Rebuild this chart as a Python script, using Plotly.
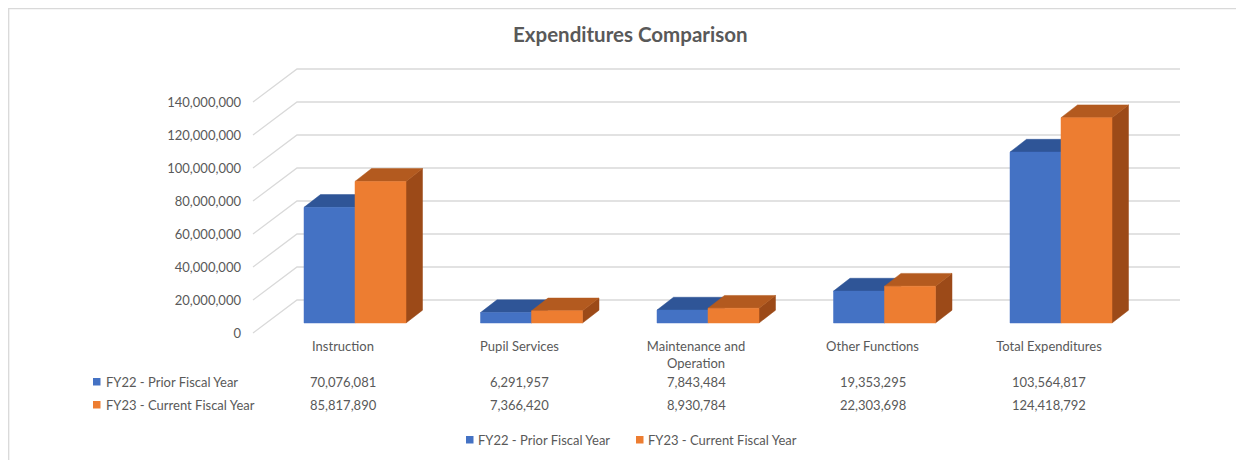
import plotly.graph_objects as go

# ---------------- data ----------------
categories = ["Instruction", "Pupil Services", "Maintenance and Operation",
              "Other Functions", "Total Expenditures"]
category_labels = ["Instruction", "Pupil Services", "Maintenance and<br>Operation",
                   "Other Functions", "Total Expenditures"]
series_names = ["FY22 - Prior Fiscal Year", "FY23 - Current Fiscal Year"]
fy22_values = [70076081, 6291957, 7843484, 19353295, 103564817]
fy23_values = [85817890, 7366420, 8930784, 22303698, 124418792]
y_ticks = [0, 20000000, 40000000, 60000000, 80000000, 100000000, 120000000, 140000000]

# ---------------- styling / geometry ----------------
# the page body adds an 8px margin, so the figure is offset by 8px
OFF = 8
W, H = 1244 - OFF, 460 - OFF
ML, MR, MT, MB = 250 - OFF, 54, 60 - OFF, 125
PX_CAT = 176.5          # px per category step
X0_PX = 343 - OFF       # pixel of category 0 on the front plane
PX_VAL = 1.65e-6        # px per unit of value
Y0_PX = 333 - OFF       # pixel of value 0 on the front plane
FS = 13

def cx(px):  # figure pixel -> x data
    return (px - X0_PX) / PX_CAT

def cy(py):  # figure pixel -> y data
    return (Y0_PX - py) / PX_VAL

DEPTH_X, DEPTH_Y = 44 / PX_CAT, 33 / PX_VAL          # full depth of the box
OFF_X, OFF_Y = 12 / PX_CAT, 10 / PX_VAL              # bar front face offset
BD_X, BD_Y = 16.5 / PX_CAT, 12.8 / PX_VAL            # bar depth
BAR_W = 51 / PX_CAT

TXT = "#595959"
FONT = "Lato"
GRID = "#D9D9D9"
colors = {
    0: dict(front="#4472C4", top="#2F5597", side="#2B4D8A"),
    1: dict(front="#ED7D31", top="#B35A1F", side="#9C4A18"),
}

fig = go.Figure()

# back-wall gridlines (with the diagonal from the front-left edge)
gx, gy = [], []
xl, xr = cx(253 - OFF), cx(1180 - OFF)
for t in y_ticks:
    gx += [xl, xl + DEPTH_X, xr, None]
    gy += [t, t + DEPTH_Y, t + DEPTH_Y, None]
fig.add_trace(go.Scatter(x=gx, y=gy, mode="lines", line=dict(color=GRID, width=1.3),
                         hoverinfo="skip", showlegend=False))

# 3D bars
all_vals = [fy22_values, fy23_values]
for s, vals in enumerate(all_vals):
    faces = {"side": ([], []), "top": ([], []), "front": ([], [])}
    for i, v in enumerate(vals):
        x_left = i + OFF_X + (s - 1) * BAR_W
        x_right = x_left + BAR_W
        y_bot = OFF_Y
        y_top = OFF_Y + v
        fx, fy = faces["front"]
        fx += [x_left, x_right, x_right, x_left, x_left, None]
        fy += [y_bot, y_bot, y_top, y_top, y_bot, None]
        tx, ty = faces["top"]
        tx += [x_left, x_right, x_right + BD_X, x_left + BD_X, x_left, None]
        ty += [y_top, y_top, y_top + BD_Y, y_top + BD_Y, y_top, None]
        sx, sy = faces["side"]
        sx += [x_right, x_right + BD_X, x_right + BD_X, x_right, x_right, None]
        sy += [y_bot, y_bot + BD_Y, y_top + BD_Y, y_top, y_bot, None]
    for face in ["side", "top", "front"]:
        xs, ys = faces[face]
        c = colors[s][face]
        fig.add_trace(go.Scatter(x=xs, y=ys, mode="lines", fill="toself",
                                 fillcolor=c, line=dict(color=c, width=0.5),
                                 hoverinfo="skip", showlegend=False))

# ---------------- data table & legend ----------------
def paper_x(px):  # reference-image pixel -> paper
    return (px - OFF - ML) / (W - ML - MR)

def paper_y(py):
    return (H - MB - (py - OFF)) / (H - MT - MB)

annotations = []
shapes = []
row_y = [382, 405]
for s, vals in enumerate(all_vals):
    for i, v in enumerate(vals):
        annotations.append(dict(x=i, xref="x", y=paper_y(row_y[s]), yref="paper",
                                text=f"{v:,}", showarrow=False,
                                font=dict(family=FONT, size=FS, color=TXT),
                                xanchor="center", yanchor="middle"))
    annotations.append(dict(x=paper_x(104), xref="paper", y=paper_y(row_y[s]), yref="paper",
                            text=series_names[s], showarrow=False,
                            font=dict(family=FONT, size=FS, color=TXT),
                            xanchor="left", yanchor="middle"))
    shapes.append(dict(type="rect", xref="paper", yref="paper",
                       x0=paper_x(93), x1=paper_x(100.5),
                       y0=paper_y(row_y[s] + 3.5), y1=paper_y(row_y[s] - 4),
                       fillcolor=colors[s]["front"], line=dict(width=0)))

# bottom legend
leg_y = 440
leg_sq = [466, 636]
for s in range(2):
    shapes.append(dict(type="rect", xref="paper", yref="paper",
                       x0=paper_x(leg_sq[s]), x1=paper_x(leg_sq[s] + 7.5),
                       y0=paper_y(leg_y + 3.5), y1=paper_y(leg_y - 4),
                       fillcolor=colors[s]["front"], line=dict(width=0)))
    annotations.append(dict(x=paper_x(leg_sq[s] + 9.5), xref="paper", y=paper_y(leg_y), yref="paper",
                            text=series_names[s], showarrow=False,
                            font=dict(family=FONT, size=FS, color=TXT),
                            xanchor="left", yanchor="middle"))

# title
annotations.append(dict(x=paper_x(630), xref="paper", y=paper_y(34), yref="paper",
                        text="<b>Expenditures Comparison</b>", showarrow=False,
                        font=dict(family=FONT, size=20.5, color=TXT),
                        xanchor="center", yanchor="middle"))

# chart border (top and left visible)
shapes.append(dict(type="rect", xref="paper", yref="paper",
                   x0=paper_x(8.7), x1=paper_x(1270), y0=paper_y(480), y1=paper_y(8.7),
                   line=dict(color="#D9D9D9", width=1.3), fillcolor="rgba(0,0,0,0)",
                   layer="below"))

fig.update_layout(
    width=W, height=H, autosize=False,
    margin=dict(l=ML, r=MR, t=MT, b=MB),
    paper_bgcolor="white", plot_bgcolor="white",
    showlegend=False,
    annotations=annotations, shapes=shapes,
    xaxis=dict(range=[cx(ML), cx(W - MR)], tickmode="array",
               tickvals=list(range(len(categories))), ticktext=category_labels,
               showgrid=False, zeroline=False, showline=False, ticks="",
               tickfont=dict(family=FONT, size=FS, color=TXT),
               ticklabelstandoff=2, fixedrange=True),
    yaxis=dict(range=[cy(H - MB), cy(MT)], tickmode="array",
               tickvals=y_ticks, ticktext=[f"{t:,}" for t in y_ticks],
               showgrid=False, zeroline=False, showline=False, ticks="",
               tickfont=dict(family=FONT, size=FS, color=TXT),
               ticklabelstandoff=8, fixedrange=True),
)

fig.write_html("out.html")
